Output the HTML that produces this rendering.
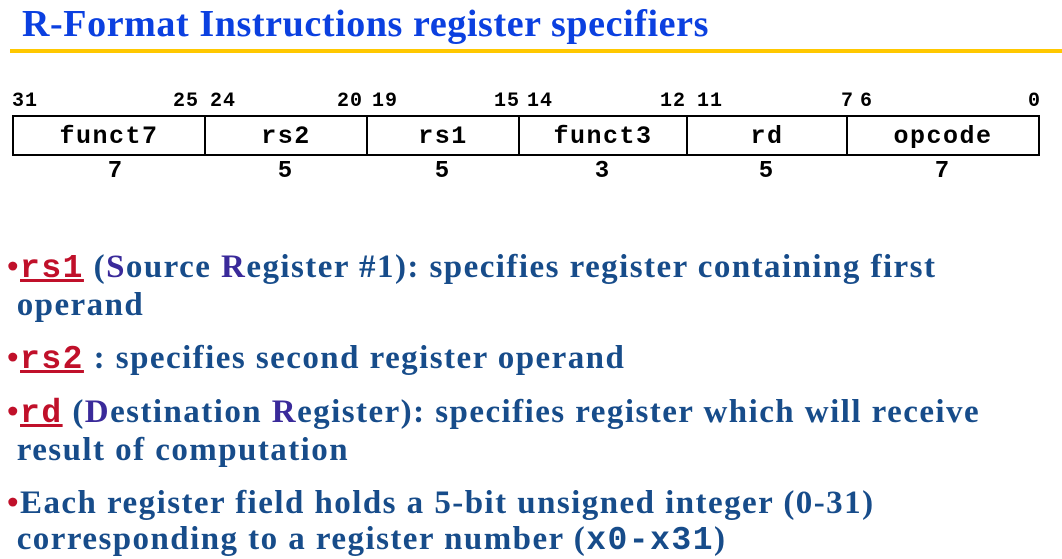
<!DOCTYPE html>
<html><head><meta charset="utf-8"><style>
body{margin:0;width:1062px;height:557px;background:#fff;position:relative;overflow:hidden;font-family:"Liberation Serif",serif}
.t{position:absolute;white-space:nowrap}
.title{left:22px;top:2px;font-size:38px;font-weight:bold;color:#0b40e0;letter-spacing:0.6px}
.rule{position:absolute;left:10px;top:49px;width:1052px;height:4px;background:#ffc800}
.mono{font-family:"Liberation Mono",monospace;font-weight:bold}
.bit{position:absolute;top:90px;font-size:20px;color:#000;letter-spacing:1px;line-height:24px}
.box{position:absolute;left:12px;top:115px;width:1024px;height:37px;border:2px solid #000}
.fld{position:absolute;top:0;height:37px;border-right:2px solid #000;text-align:center;line-height:39px;font-size:25px;letter-spacing:1.5px}
.w{position:absolute;top:158px;font-size:24px;text-align:center}
.p{position:absolute;left:7px;font-size:33px;letter-spacing:1.45px;font-weight:bold;color:#174c8a;white-space:nowrap;line-height:36px}
.r{color:#c0102a;text-decoration:underline;font-family:"Liberation Mono",monospace;font-weight:bold;letter-spacing:1.5px}
.b{color:#c0102a}
.pu{color:#3a2a9a}
</style></head><body>
<div class="t title">R-Format Instructions register specifiers</div>
<div class="rule"></div>

<div class="bit mono" style="left:12px">31</div>
<div class="bit mono" style="right:863px">25</div>
<div class="bit mono" style="left:210px">24</div>
<div class="bit mono" style="right:699px">20</div>
<div class="bit mono" style="left:372px">19</div>
<div class="bit mono" style="right:542px">15</div>
<div class="bit mono" style="left:527px">14</div>
<div class="bit mono" style="right:376px">12</div>
<div class="bit mono" style="left:697px">11</div>
<div class="bit mono" style="right:208px">7</div>
<div class="bit mono" style="left:860px">6</div>
<div class="bit mono" style="right:21px">0</div>

<div class="box">
<div class="fld mono" style="left:0;width:190px">funct7</div>
<div class="fld mono" style="left:192px;width:160px">rs2</div>
<div class="fld mono" style="left:354px;width:150px">rs1</div>
<div class="fld mono" style="left:506px;width:166px">funct3</div>
<div class="fld mono" style="left:674px;width:158px">rd</div>
<div class="fld mono" style="left:834px;width:190px;border-right:none">opcode</div>
</div>
<div class="w mono" style="left:12px;width:206px">7</div>
<div class="w mono" style="left:204px;width:162px">5</div>
<div class="w mono" style="left:366px;width:152px">5</div>
<div class="w mono" style="left:518px;width:168px">3</div>
<div class="w mono" style="left:686px;width:160px">5</div>
<div class="w mono" style="left:846px;width:192px">7</div>

<div class="p" style="top:249px"><span class="b">•</span><span class="r">rs1</span> (<span class="pu">S</span>ource <span class="pu">R</span>egister #1): specifies register containing first<br>&nbsp;operand</div>
<div class="p" style="top:340px"><span class="b">•</span><span class="r">rs2</span> : specifies second register operand</div>
<div class="p" style="top:394px"><span class="b">•</span><span class="r">rd</span> (<span class="pu">D</span>estination <span class="pu">R</span>egister): specifies register which will receive<br>&nbsp;result of computation</div>
<div class="p" style="top:485px"><span class="b">•</span>Each register field holds a 5-bit unsigned integer (0-31)<br>&nbsp;corresponding to a register number (<span class="mono" style="letter-spacing:1.5px">x0-x31</span>)</div>
</body></html>
